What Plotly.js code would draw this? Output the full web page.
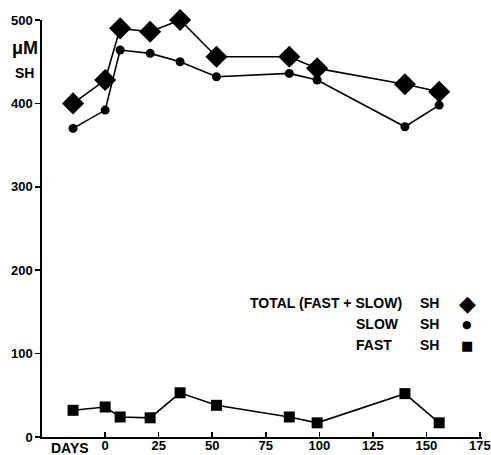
<!DOCTYPE html>
<html><head><meta charset="utf-8">
<script src="https://cdn.plot.ly/plotly-3.0.1.min.js"></script>
<style>body{margin:0;background:#fff}#c{width:491px;height:455px}</style>
</head><body><div id="c"></div>
<script>
const days = [-15, 0, 7, 21, 35, 52, 86, 99, 140, 156];
const totalSH = [400, 428, 490, 486, 500, 456, 456, 442, 423, 414];
const slowSH = [370, 392, 464, 460, 450, 432, 436, 428, 372, 398];
const fastSH = [32, 36, 24, 23, 53, 38, 24, 17, 52, 17];
const xTicks = [0, 25, 50, 75, 100, 125, 150, 175];
const yTicks = [0, 100, 200, 300, 400, 500];
const legendNames = ["TOTAL (FAST + SLOW)", "SLOW", "FAST"];
const legendGlyphs = ["◆", "●", "■"];

const F = "Liberation Sans Narrow, Arial Narrow, Liberation Sans, sans-serif";
const line = {color: "#000", width: 1.6};
const traces = [
  {x: days, y: totalSH, mode: "lines+markers", line: line, marker: {symbol: "diamond", size: 17, color: "#000"}, cliponaxis: false},
  {x: days, y: slowSH, mode: "lines+markers", line: line, marker: {symbol: "circle", size: 9, color: "#000"}, cliponaxis: false},
  {x: days, y: fastSH, mode: "lines+markers", line: line, marker: {symbol: "square", size: 11, color: "#000"}, cliponaxis: false}
];
const py = v => (437 - v) / 417;
const px = v => (v - 42) / 440;
const ann = [
  {xref: "paper", yref: "paper", x: px(10), y: py(48), text: "<b>μM</b>", showarrow: false, font: {family: F, size: 18, color: "#000"}, xanchor: "left", yanchor: "middle"},
  {xref: "paper", yref: "paper", x: px(13), y: py(73), text: "<b>SH</b>", showarrow: false, font: {family: F, size: 14, color: "#000"}, xanchor: "left", yanchor: "middle"},
  {xref: "x", yref: "paper", x: -16.5, y: py(448), text: "<b>DAYS</b>", showarrow: false, font: {family: F, size: 14, color: "#000"}, xanchor: "center", yanchor: "middle"}
];
const rowY = [303, 324, 345];
legendNames.forEach((n, i) => {
  ann.push({xref: "paper", yref: "paper", x: i === 0 ? px(404) : px(354), y: py(rowY[i]), text: "<b>" + n + "</b>", showarrow: false, xanchor: i === 0 ? "right" : "left", yanchor: "middle", font: {family: F, size: 14, color: "#000"}});
  ann.push({xref: "paper", yref: "paper", x: px(418), y: py(rowY[i]), text: "<b>SH</b>", showarrow: false, xanchor: "left", yanchor: "middle", font: {family: F, size: 14, color: "#000"}});
  ann.push({xref: "paper", yref: "paper", x: px(467), y: py(rowY[i]), text: legendGlyphs[i], showarrow: false, xanchor: "center", yanchor: "middle", font: {family: "DejaVu Sans", size: i === 0 ? 22 : (i === 1 ? 11 : 13), color: "#000"}});
});
const layout = {
  width: 491, height: 455,
  margin: {l: 42, r: 9, t: 20, b: 18},
  paper_bgcolor: "#fff", plot_bgcolor: "#fff",
  showlegend: false,
  xaxis: {range: [-29.5, 176], tickvals: xTicks, ticktext: xTicks.map(String), ticks: "inside", ticklen: 5, tickwidth: 1.5, tickcolor: "#000",
    showline: true, linecolor: "#000", linewidth: 1.6, showgrid: false, zeroline: false, ticklabelstandoff: -4,
    tickfont: {family: F, size: 13, color: "#000", weight: "bold"}},
  yaxis: {range: [0, 500], tickvals: yTicks, ticktext: yTicks.map(String), ticks: "outside", ticklen: 5, tickwidth: 1.5, tickcolor: "#000",
    showline: true, linecolor: "#000", linewidth: 1.6, showgrid: false, zeroline: false,
    tickfont: {family: F, size: 13, color: "#000", weight: "bold"}},
  annotations: ann
};
Plotly.newPlot("c", traces, layout, {staticPlot: true});
</script></body></html>
